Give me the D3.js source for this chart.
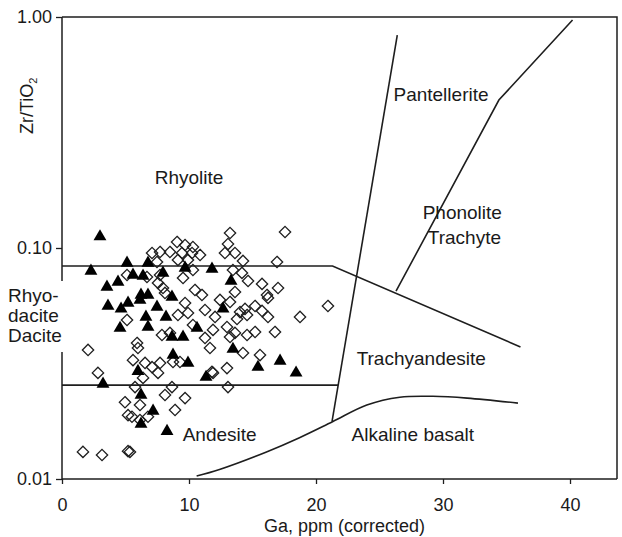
<!DOCTYPE html>
<html>
<head>
<meta charset="utf-8">
<script src="https://cdn.jsdelivr.net/npm/d3@7"></script>
<style>
  html, body { margin: 0; padding: 0; background: #fff; }
  svg { display: block; }
  text { font-family: "Liberation Sans", Arial, sans-serif; fill: #1a1a1a; }
</style>
</head>
<body>
<svg id="chart" width="622" height="537"></svg>
<script>
// Ga (ppm, corrected) vs Zr/TiO2 classification diagram

// Sample group 1 (filled triangles): [Ga, Zr/TiO2]
const triangleGa = [2.99, 2.28, 5.12, 6.77, 3.54, 4.41, 5.59, 6.38, 7.95, 9.69,
  6.22, 6.77, 8.66, 3.62, 4.65, 5.20, 6.14, 7.48, 6.61, 8.19,
  6.77, 4.57, 10.63, 8.66, 9.53, 11.81, 13.31, 12.68, 8.74, 9.92,
  5.98, 3.23, 6.22, 7.17, 6.22, 8.27, 13.46, 15.43, 17.17, 18.43, 11.34];
const triangleZr = [0.112, 0.0795, 0.0861, 0.0861, 0.0678, 0.0713, 0.0764, 0.0757, 0.0780, 0.0819,
  0.0626, 0.0626, 0.0614, 0.0561, 0.0545, 0.0578, 0.0596, 0.0555, 0.0503, 0.0503,
  0.0455, 0.0450, 0.0450, 0.0412, 0.0412, 0.0811, 0.0720, 0.0545, 0.0344, 0.0318,
  0.0293, 0.0258, 0.0231, 0.0197, 0.0173, 0.0161, 0.0365, 0.0305, 0.0324, 0.0288, 0.0276];

// Sample group 2 (open diamonds)
const diamondGa = [9.06, 9.69, 7.72, 7.09, 8.50, 9.45, 10.24, 9.13, 9.92, 7.48,
  10.31, 9.53, 7.72, 6.69, 5.12, 7.56, 10.47, 8.11, 9.69, 9.13,
  9.92, 5.12, 7.87, 8.50, 5.91,
  13.23, 17.56, 13.07, 12.83, 13.62, 10.87, 14.25, 16.93, 13.46, 14.17,
  14.65, 15.75, 17.01, 16.14, 16.22, 20.94, 18.74, 13.62, 12.44, 13.23,
  15.20, 11.02, 11.26, 14.41, 14.57, 14.02, 15.75, 16.22, 12.05, 13.78,
  11.89, 12.99, 13.62, 15.20, 16.77, 14.57, 13.23, 11.26,
  2.05, 5.98, 5.59, 6.54, 7.09, 7.72, 8.74, 9.29, 7.56, 6.38,
  2.83, 5.75, 8.66, 8.11, 9.69, 4.96, 6.14, 8.90, 5.20, 5.51,
  6.77, 6.14, 1.65, 3.15, 5.20, 5.35,
  11.65, 14.25, 15.59, 12.99, 11.81, 11.89, 13.07,
  10.31, 7.95, 10.31];
const diamondZr = [0.1062, 0.1030, 0.0961, 0.0951, 0.0961, 0.0951, 0.0951, 0.0888, 0.0888, 0.0870,
  0.0803, 0.0742, 0.0764, 0.0749, 0.0764, 0.0706, 0.0658, 0.0639, 0.0578, 0.0513,
  0.0523, 0.0488, 0.0420, 0.0429, 0.0388,
  0.1161, 0.1173, 0.1040, 0.0951, 0.0951, 0.0933, 0.0879, 0.0870, 0.0803, 0.0780,
  0.0720, 0.0699, 0.0671, 0.0626, 0.0608, 0.0561, 0.0503, 0.0645, 0.0596, 0.0584,
  0.0561, 0.0626, 0.0539, 0.0545, 0.0513, 0.0528, 0.0534, 0.0503, 0.0503, 0.0493,
  0.0442, 0.0455, 0.0429, 0.0433, 0.0433, 0.0420, 0.0412, 0.0408,
  0.0362, 0.0369, 0.0327, 0.0318, 0.0305, 0.0318, 0.0321, 0.0321, 0.0288, 0.0274,
  0.0288, 0.0250, 0.0250, 0.0231, 0.0224, 0.0215, 0.0209, 0.0199, 0.0189, 0.0186,
  0.0186, 0.0180, 0.0131, 0.0127, 0.0132, 0.0131,
  0.0369, 0.0351, 0.0344, 0.0302, 0.0291, 0.0288, 0.0250,
  0.1010, 0.0671, 0.0464];

// Field boundaries: [Ga, Zr/TiO2] vertices
const upperBoundary = [[0, 0.0836], [21.3, 0.0836], [36.1, 0.0373]];
const lowerBoundary = [[0, 0.0255], [21.75, 0.0255]];
const pantelleriteBoundary = [[26.4, 0.835], [21.26, 0.0177]];
const phonoliteBoundary = [[26.3, 0.0650], [34.4, 0.437], [40.2, 0.97]];
const basaltBoundary = [[10.6, 0.0103], [12.4, 0.0110], [16.1, 0.0131], [18.7, 0.0151],
  [21.3, 0.0177], [24.0, 0.0209], [26.6, 0.0226], [29.2, 0.0228], [31.9, 0.0224], [35.9, 0.0213]];

// Field names
const fieldNames = ["Rhyolite", "Pantellerite", "Phonolite", "Trachyte", "Trachyandesite", "Alkaline basalt", "Andesite"];
const fieldGa = [7.3, 26.1, 28.4, 28.8, 23.2, 22.8, 9.5];
const fieldZr = [0.190, 0.435, 0.134, 0.104, 0.0310, 0.0146, 0.0146];
const daciteLines = ["Rhyo-", "dacite", "Dacite"];

// Axis ticks
const xTicks = [0, 10, 20, 30, 40];
const yTicks = [0.01, 0.1, 1];

const svg = d3.select("#chart");
const plotLeft = 62, plotRight = 617, plotTop = 17, plotBottom = 479;

const x = d3.scaleLinear().domain([0, 43.7]).range([plotLeft, plotRight]);
const y = d3.scaleLog().domain([0.01, 1]).range([plotBottom, plotTop]);

const ink = "#1e1e1e";

// Frame (top and right edges)
svg.append("path")
  .attr("d", `M${plotLeft},${plotTop}H${plotRight}V${plotBottom}`)
  .attr("fill", "none").attr("stroke", ink).attr("stroke-width", 1.5);

// Axes
const gx = svg.append("g").attr("transform", `translate(0,${plotBottom})`)
  .call(d3.axisBottom(x).tickValues(xTicks).tickSize(5).tickSizeOuter(0).tickPadding(14));
const gy = svg.append("g").attr("transform", `translate(${plotLeft},0)`)
  .call(d3.axisLeft(y).tickValues(yTicks).tickFormat(d3.format(".2f")).tickSize(6).tickSizeOuter(0).tickPadding(4));
[gx, gy].forEach(g => {
  g.select(".domain").attr("stroke", ink).attr("stroke-width", 1.5);
  g.selectAll(".tick line").attr("stroke", ink).attr("stroke-width", 1.3);
  g.selectAll(".tick text").attr("font-size", 18).attr("fill", ink)
    .attr("font-family", '"Liberation Sans", Arial, sans-serif');
});
gx.select(".domain").attr("d", `M${plotLeft},0H${plotRight}`);
gy.select(".domain").attr("d", `M0,${plotBottom}V${plotTop}`);

// Boundary lines
const line = d3.line().x(d => x(d[0])).y(d => y(d[1]));
const boundaryStyle = sel => sel.attr("fill", "none").attr("stroke", ink).attr("stroke-width", 1.6);
[upperBoundary, lowerBoundary, pantelleriteBoundary, phonoliteBoundary].forEach(pts => {
  svg.append("path").attr("d", line(pts)).call(boundaryStyle);
});
svg.append("path").attr("d", line.curve(d3.curveCatmullRom.alpha(0.5))(basaltBoundary)).call(boundaryStyle);

// Diamonds (open)
const diamondShape = {
  draw(ctx, size) {
    const r = Math.sqrt(size / 2);
    ctx.moveTo(0, -r); ctx.lineTo(r, 0); ctx.lineTo(0, r); ctx.lineTo(-r, 0); ctx.closePath();
  }
};
svg.append("g").selectAll("path")
  .data(diamondGa.map((g, i) => [g, diamondZr[i]]))
  .join("path")
  .attr("transform", d => `translate(${x(d[0])},${y(d[1])})`)
  .attr("d", d3.symbol(diamondShape, 64))
  .attr("fill", "none").attr("stroke", ink).attr("stroke-width", 1.3);

// Triangles (filled)
svg.append("g").selectAll("path")
  .data(triangleGa.map((g, i) => [g, triangleZr[i]]))
  .join("path")
  .attr("transform", d => `translate(${x(d[0])},${y(d[1])})`)
  .attr("d", d3.symbol(d3.symbolTriangle, 72))
  .attr("fill", "#000");

// Field labels
svg.append("g").selectAll("text")
  .data(fieldNames)
  .join("text")
  .attr("x", (d, i) => x(fieldGa[i]))
  .attr("y", (d, i) => y(fieldZr[i]))
  .attr("font-size", 19)
  .text(d => d);

// Rhyodacite / Dacite label sits over the axis with a white backing
svg.append("rect").attr("x", 4).attr("y", 281).attr("width", 62).attr("height", 71).attr("fill", "#fff");
svg.append("g").selectAll("text")
  .data(daciteLines)
  .join("text")
  .attr("x", 8)
  .attr("y", (d, i) => 302 + i * 20)
  .attr("font-size", 19)
  .text(d => d);

// Axis titles
svg.append("text")
  .attr("x", (plotLeft + plotRight) / 2 + 5).attr("y", 532)
  .attr("text-anchor", "middle").attr("font-size", 18)
  .text("Ga, ppm (corrected)");

const yt = svg.append("text")
  .attr("transform", "translate(33,134) rotate(-90)")
  .attr("font-size", 18);
yt.append("tspan").text("Zr/TiO");
yt.append("tspan").attr("font-size", 11).attr("dy", 4).text("2");
</script>
</body>
</html>
